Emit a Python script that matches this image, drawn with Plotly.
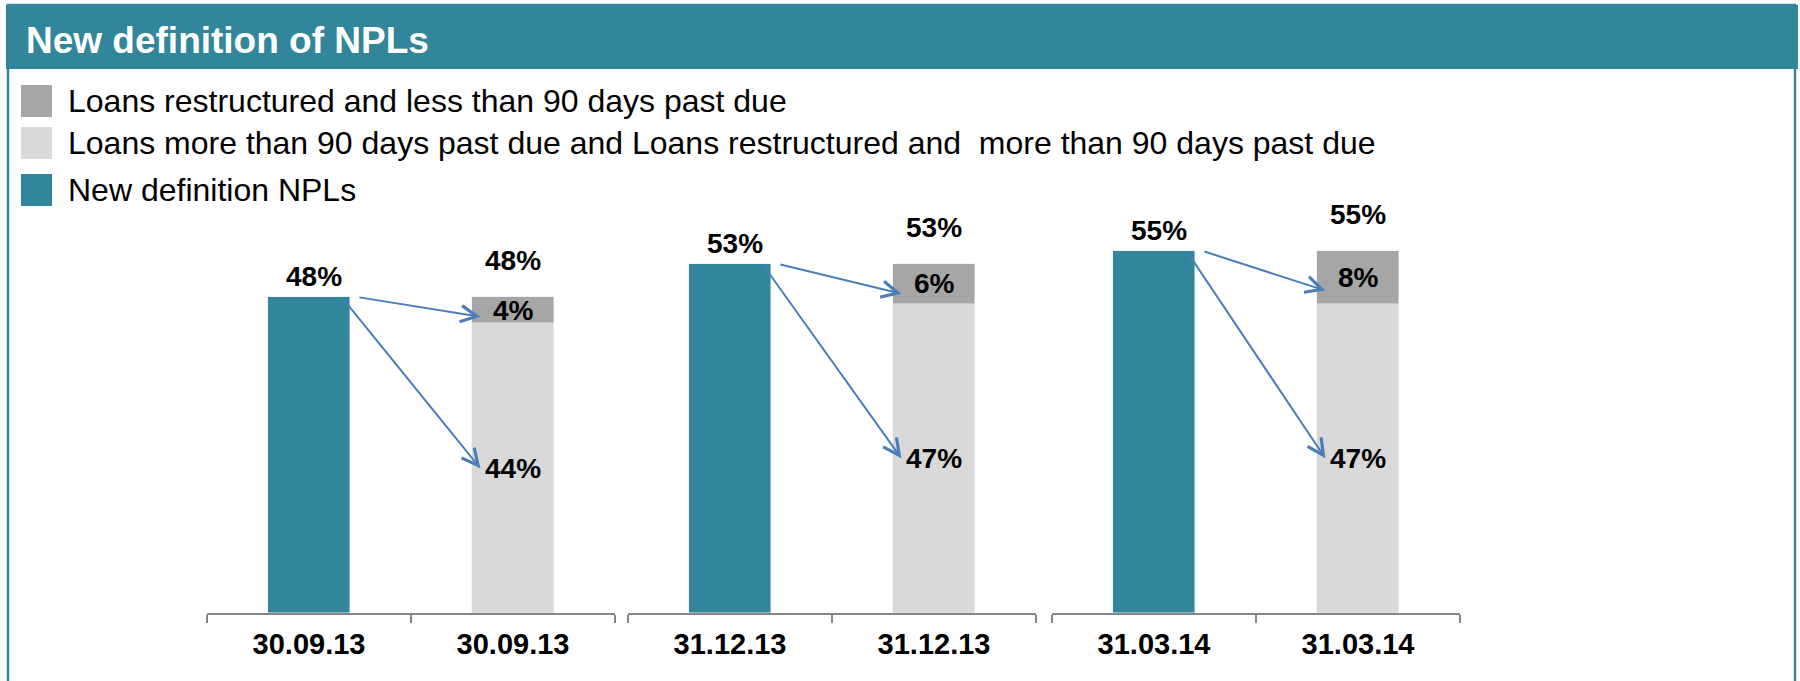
import plotly.graph_objects as go

dates = ["30.09.13", "31.12.13", "31.03.14"]
npl_new = [48, 53, 55]
over_90 = [44, 47, 47]
restr_under_90 = [4, 6, 8]

legend_names = ["Loans restructured and less than 90 days past due",
                "Loans more than 90 days past due and Loans restructured and  more than 90 days past due",
                "New definition NPLs"]

TEAL = "#31869B"
DARK = "#A6A6A6"
LIGHT = "#D9D9D9"
ARROW = "#4A7EBB"
FONT = "Liberation Sans, Arial, sans-serif"

W, H = 1800, 681


def px(x):
    return x / W


def py(y):
    return 1 - y / H


# x domains of the three pairs (pixels)
domains = [(207, 615), (628, 1036), (1052, 1460)]

fig = go.Figure()
annotations = []

for i in range(len(dates)):
    k = "" if i == 0 else str(i + 1)
    xa = "x" + k
    fig.add_trace(go.Bar(name=legend_names[2], x=[0], y=[npl_new[i]], xaxis=xa, yaxis="y",
                         marker_color=TEAL, width=0.4, showlegend=False))
    fig.add_trace(go.Bar(name=legend_names[1], x=[1], y=[over_90[i]], xaxis=xa, yaxis="y",
                         marker_color=LIGHT, width=0.4, showlegend=False))
    fig.add_trace(go.Bar(name=legend_names[0], x=[1], y=[restr_under_90[i]], xaxis=xa, yaxis="y",
                         marker_color=DARK, width=0.4, showlegend=False))

    lbl = dict(xref=xa, yref="y", showarrow=False,
               font=dict(family=FONT, size=28, color="black", weight="bold"))
    total = over_90[i] + restr_under_90[i]
    annotations += [
        dict(lbl, x=0, y=npl_new[i], text=f"{npl_new[i]}%", yanchor="bottom", yshift=3, xshift=5),
        dict(lbl, x=1, y=total, text=f"{total}%", yanchor="bottom", yshift=19),
        dict(lbl, x=1, y=over_90[i] + restr_under_90[i] / 2, text=f"{restr_under_90[i]}%"),
        dict(lbl, x=1, y=over_90[i] / 2, text=f"{over_90[i]}%"),
    ]
    arr = dict(xref=xa, yref="y", axref=xa, ayref="y", text="", showarrow=True,
               arrowhead=5, arrowsize=1.6, arrowwidth=2, arrowcolor=ARROW, standoff=0)
    annotations += [
        dict(arr, x=0.84, y=over_90[i] + restr_under_90[i] * 0.25, ax=0.24, ay=npl_new[i]),
        dict(arr, x=0.84, y=over_90[i] / 2, ax=0.16, ay=npl_new[i]),
    ]

    fig.layout["xaxis" + k] = dict(
        domain=[px(domains[i][0]), px(domains[i][1])], anchor="y",
        range=[-0.5, 1.5], tickvals=[0, 1], ticktext=[dates[i], dates[i]],
        ticks="", showline=True, linecolor="#868686", linewidth=2,
        showgrid=False, zeroline=False, fixedrange=True,
        minor=dict(tickvals=[-0.5, 0.5, 1.5], ticks="outside", ticklen=8,
                   tickcolor="#868686", tickwidth=2, showgrid=False),
        tickfont=dict(family=FONT, size=29, color="black", weight="bold"),
        ticklabelstandoff=4,
    )

# header band and panel frame
shapes = [
    dict(type="rect", xref="paper", yref="paper", x0=px(8), x1=px(1795), y0=py(5), y1=py(700),
         line=dict(color=TEAL, width=2.5), fillcolor="rgba(0,0,0,0)"),
    dict(type="rect", xref="paper", yref="paper", x0=px(6), x1=px(1798), y0=py(5), y1=py(69),
         line=dict(width=0), fillcolor=TEAL),
]
annotations.append(dict(xref="paper", yref="paper", x=px(24), y=py(40), xanchor="left",
                        yanchor="middle", showarrow=False, text="New definition of NPLs",
                        font=dict(family=FONT, size=37, color="white", weight="bold")))

# legend drawn as boxes and text
legend_colors = [DARK, LIGHT, TEAL]
legend_rows = [101, 143, 190]
for name, col, yc in zip(legend_names, legend_colors, legend_rows):
    shapes.append(dict(type="rect", xref="paper", yref="paper", x0=px(21), x1=px(52),
                       y0=py(yc - 16), y1=py(yc + 16), line=dict(width=0), fillcolor=col))
    annotations.append(dict(xref="paper", yref="paper", x=px(66), y=py(yc), xanchor="left",
                            yanchor="middle", showarrow=False, text=name,
                            font=dict(family=FONT, size=32, color="black")))

fig.update_layout(
    width=W, height=H,
    margin=dict(l=0, r=0, t=0, b=0),
    paper_bgcolor="white", plot_bgcolor="white",
    barmode="stack", bargap=0,
    yaxis=dict(domain=[py(613), py(205)], range=[0, 62], visible=False, fixedrange=True),
    shapes=shapes, annotations=annotations,
    showlegend=False,
)

fig.write_html("out.html", config={"displayModeBar": False},
               post_script="document.body.style.margin='0';")
